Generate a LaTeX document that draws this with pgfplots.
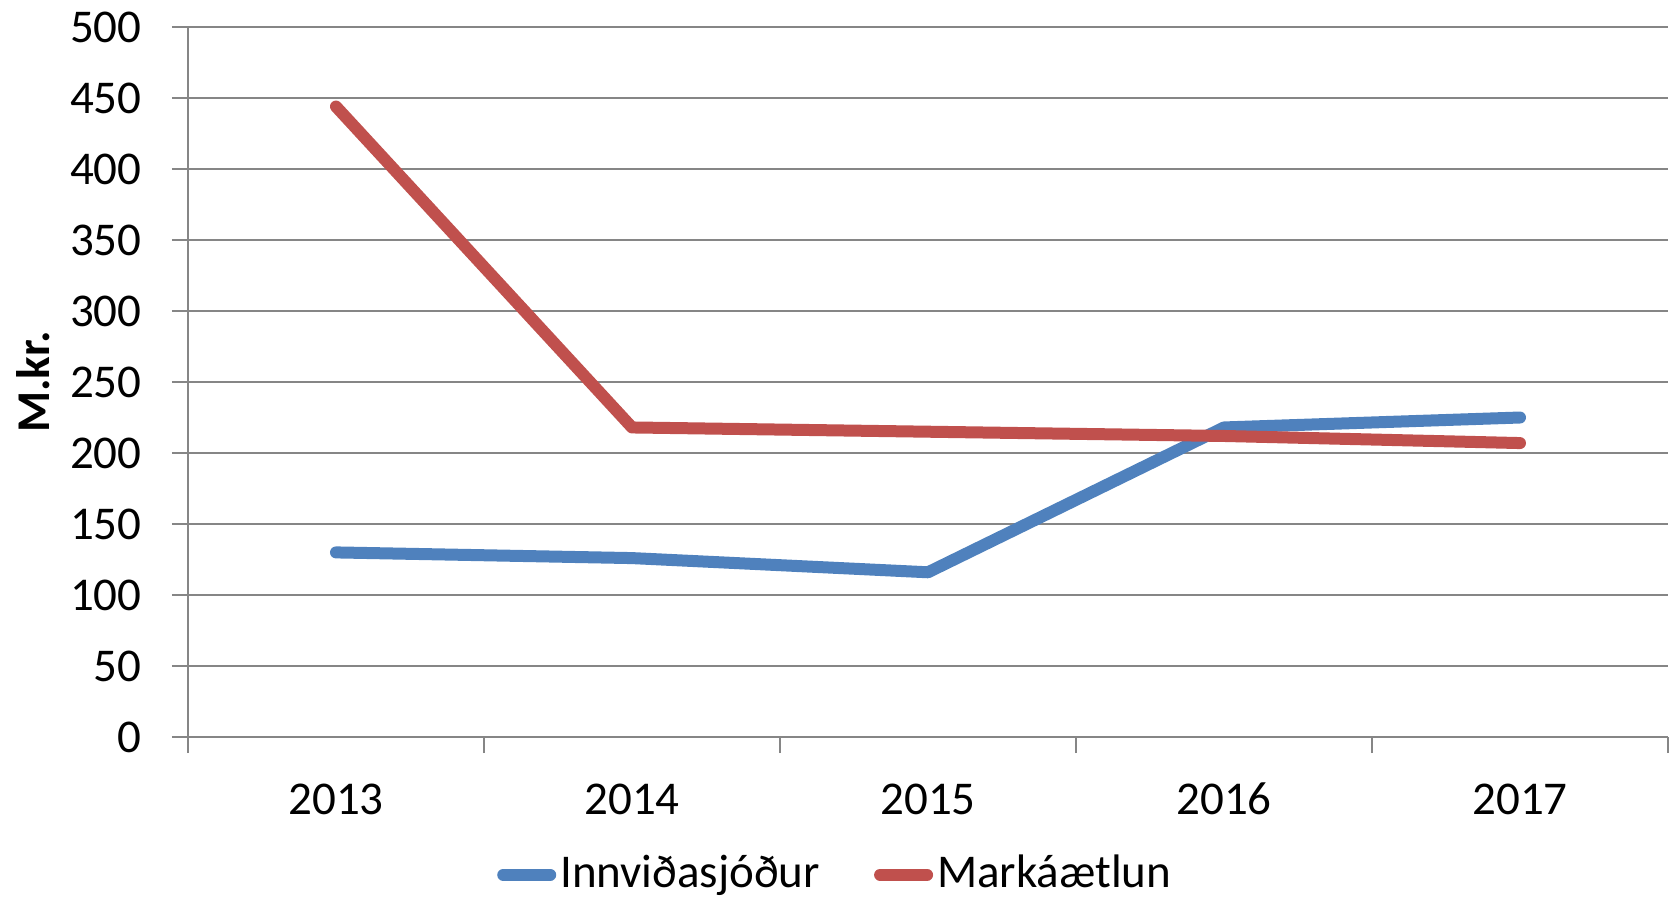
\documentclass[border=0pt]{standalone}
\usepackage{pgfplots}
\pgfplotsset{compat=1.18}
\usepackage{fontspec}
\setmainfont{Carlito}
\definecolor{gridgray}{HTML}{868686}
\definecolor{sblue}{HTML}{4F81BD}
\definecolor{sred}{HTML}{C0504D}
\begin{document}
\fontsize{23.5pt}{28pt}\selectfont
\begin{tikzpicture}
\useasboundingbox (-94pt,-82.5pt) rectangle (741.5pt,368.5pt);
\begin{axis}[
  at={(0,0)}, anchor=south west,
  scale only axis=true,
  width=740pt, height=355pt,
  xmin=-0.5, xmax=4.5,
  ymin=0, ymax=500,
  ytick={0,50,...,500},
  xtick={0,1,2,3,4},
  xticklabels={2013,2014,2015,2016,2017},
  minor xtick={-0.5,0.5,1.5,2.5,3.5,4.5},
  major x tick style={draw=none},
  minor tick length=8pt,
  major tick length=8pt,
  tick align=outside,
  tick style={draw=gridgray, line width=0.75pt},
  axis x line*=bottom, axis y line*=left,
  axis line style={draw=gridgray, line width=0.75pt, -},
  ymajorgrids=true,
  grid style={draw=gridgray, line width=0.75pt},
  /pgf/number format/assume math mode=true,
  tick label style={font=\fontsize{23.5pt}{28pt}\selectfont, text=black},
  yticklabel style={anchor=east, inner sep=0pt, xshift=-15pt},
  xticklabel style={anchor=base, inner sep=0pt, yshift=-30.5pt},
  ylabel={\bfseries M.kr.},
  ylabel style={at={(axis description cs:-0.1047,0.5)}, anchor=center, font=\fontsize{23.5pt}{28pt}\selectfont},
  legend style={at={(axis description cs:0.438,-0.194)}, anchor=center, draw=none, fill=none,
    font=\fontsize{23.5pt}{28pt}\selectfont, legend columns=2,
    /tikz/every even column/.append style={column sep=25pt},
    inner sep=0pt},
  legend cell align=left,
  legend image code/.code={\draw[#1, line cap=round] (3pt,0pt) -- (26.5pt,0pt);},
  clip=false,
]
\addplot[sblue, line width=6pt, line join=round, line cap=round] coordinates {
  (0,130) (1,126) (2,116) (3,218) (4,225)
};
\addlegendentry{Innviðasjóður}
\addplot[sred, line width=6pt, line join=round, line cap=round] coordinates {
  (0,444) (1,218) (2,215) (3,212) (4,207)
};
\addlegendentry{Markáætlun}
\end{axis}
\end{tikzpicture}
\end{document}
